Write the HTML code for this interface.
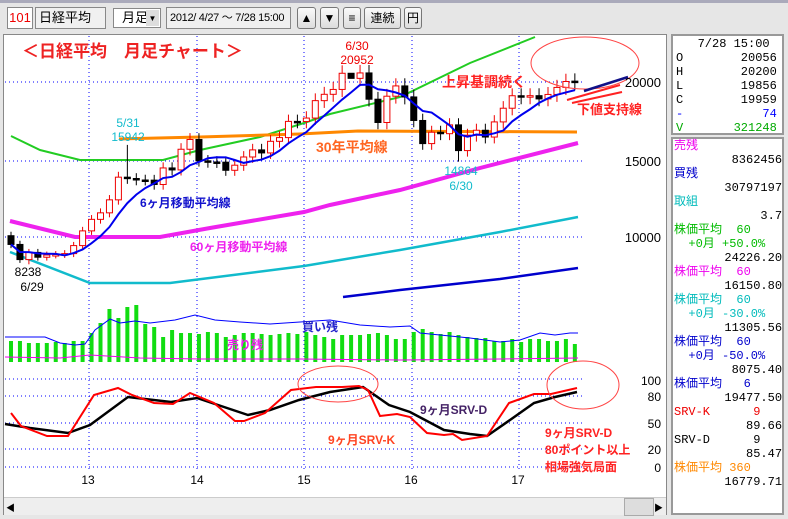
<!DOCTYPE html>
<html><head><meta charset="utf-8"><style>
body{margin:0;width:788px;height:519px;overflow:hidden;background:#e6e6e6;font-family:"Liberation Sans","Noto Sans CJK JP",sans-serif;position:relative}
.b{position:absolute;box-sizing:border-box;border:1px solid #888;background:#f0f0f0;font-size:13px;line-height:20px}
.btn{position:absolute;box-sizing:border-box;border:1px solid #777;border-radius:3px;background:linear-gradient(#fafafa,#dcdcdc);font-size:12px;text-align:center;line-height:20px;top:7px;height:22px}
svg{position:absolute;left:0;top:0}
.rp{position:absolute;font-family:"Liberation Mono","Noto Sans CJK JP",monospace;font-size:12px;line-height:14px;white-space:pre}
</style></head><body>
<div style="position:absolute;left:0;top:0;width:788px;height:3px;background:#aab"></div>
<div class="b" style="left:7px;top:7px;width:26px;height:22px;background:#fff;color:#e00;text-align:center">101</div>
<div class="b" style="left:35px;top:7px;width:71px;height:22px;padding-left:3px">日経平均</div>
<div class="b" style="left:113px;top:8px;width:48px;height:20px;background:#fff;padding-left:8px;line-height:18px">月足<span style="position:absolute;right:1px;top:1px;width:13px;height:16px;background:#ddd;font-size:8px;text-align:center">▼</span></div>
<div class="b" style="left:166px;top:7px;width:125px;height:22px;font-size:11px;padding-left:3px;white-space:nowrap;overflow:hidden;letter-spacing:-0.3px">2012/ 4/27 ～ 7/28 15:00</div>
<div class="btn" style="left:297px;width:19px">▲</div>
<div class="btn" style="left:320px;width:19px">▼</div>
<div class="btn" style="left:343px;width:18px">≡</div>
<div class="btn" style="left:364px;width:37px">連続</div>
<div class="btn" style="left:404px;width:18px">円</div>
<div style="position:absolute;left:3px;top:34px;width:664px;height:481px;background:#fff;border:1px solid #888;box-sizing:border-box"></div>
<div style="position:absolute;left:4px;top:497px;width:662px;height:17px;background:#eee;border-top:1px solid #ccc"><span style="position:absolute;left:2px;top:3px;font-size:9px">◀</span><span style="position:absolute;left:620px;top:0;width:28px;height:16px;background:#ddd;border:1px solid #aaa"></span><span style="position:absolute;right:3px;top:3px;font-size:9px">▶</span></div>
<div style="position:absolute;left:671px;top:34px;width:113px;height:101px;background:#fff;border:2px solid #999;box-sizing:border-box"></div>
<div style="position:absolute;left:671px;top:137px;width:113px;height:378px;background:#fff;border:2px solid #999;box-sizing:border-box"></div>
<div class="rp" style="left:676px;top:37px;width:104px">   7/28 15:00
O        20056
H        20200
L        19856
C        19959
<span style="color:#00f">-           74</span>
<span style="color:#0a0">V       321248</span></div>
<div class="rp" style="left:674px;top:139px;width:106px"><span style="color:#e0e">売残</span>
        8362456
<span style="color:#00c">買残</span>
       30797197
<span style="color:#0bb">取組</span>
            3.7
<span style="color:#0b0">株価平均  60
  +0月 +50.0%</span>
       24226.20
<span style="color:#e0e">株価平均  60</span>
       16150.80
<span style="color:#0bb">株価平均  60
  +0月 -30.0%</span>
       11305.56
<span style="color:#00c">株価平均  60
  +0月 -50.0%</span>
        8075.40
<span style="color:#00c">株価平均   6</span>
       19477.50
<span style="color:#e00">SRV-K      9</span>
          89.66
SRV-D      9
          85.47
<span style="color:#f80">株価平均 360</span>
       16779.71</div>
<svg id="s" width="788" height="519"></svg>
<script>
var C=[9520,8543,9006,8695,8839,8870,8928,9446,10395,11138,11559,12397,13860,13774,13677,13668,13388,14455,14327,15661,16291,14914,14841,14827,14304,14632,15162,15620,15424,16173,16413,17459,17450,17674,18797,19206,19520,20563,20235,20585,18890,17388,19083,19747,19033,17518,16026,16758,16666,17234,15575,16569,16887,16449,17425,18308,19114,19041,19118,18909,19197,19650,20033,19959];
var O=[10083];for(var i=1;i<C.length;i++)O.push(C[i-1]);O[63]=20056;
var H={13:15942,38:20952,50:14864,2:8238};
function X(i){return 11+i*8.95}function Y(v){return 82+(20000-v)*0.0155}
var s='';
function L(pts,c,w){s+='<polyline fill="none" stroke="'+c+'" stroke-width="'+w+'" points="'+pts+'"/>';}
[89,197,304,412,519].forEach(function(x){s+='<line x1="'+x+'" y1="36" x2="'+x+'" y2="470" stroke="#00f" stroke-dasharray="1,3"/>'});
[82,161,237,379,396,423,449,467].forEach(function(y){s+='<line x1="5" y1="'+y+'" x2="585" y2="'+y+'" stroke="#00f" stroke-dasharray="1,3"/>'});
L("11,136 40,150 80,160 163,160 200,150 260,137 304,123 330,114 400,97 470,63 535,37","#2c2",2);
L("10,221 75,237 160,237 210,228 304,212 330,205 400,190 480,168 578,143","#e2e",4);
L("10,252 90,283 170,283 304,266 400,250 500,232 578,217","#1bc",2.5);
L("343,297 400,290 500,279 578,268","#00c",2.5);
L("119,139 200,137 300,134 358,131 577,132","#f80",3);
var bt=[341,341,343,343,343,342,343,341,341,333,323,309,318,307,305,324,327,337,330,333,333,334,332,333,337,335,333,333,334,335,334,333,334,332,335,337,339,335,335,335,334,333,335,339,339,332,329,332,334,332,335,337,338,338,341,341,339,342,339,339,341,341,339,344];
bt.forEach(function(t,i){s+='<rect x="'+(X(i)-2)+'" y="'+t+'" width="4" height="'+(362-t)+'" fill="#1d1"/>'});
L("5,337 20,337 45,337 60,343 75,345 85,344 95,330 110,319 120,323 135,321 150,323 175,320 195,315 215,320 240,322 270,324 300,322 330,320 360,325 390,327 410,326 420,333 440,335 470,338 500,342 520,340 540,333 555,335 570,333 578,333","#00f",1);
L("5,357 60,358 90,355 140,358 200,359 300,359 400,360 500,359 578,358","#e0e",1);
for(var i=0;i<C.length;i++){var o=O[i],c=C[i],up=c>=o,x=X(i),hi=Math.max(o,c)*1.025,lo=Math.min(o,c)*0.975;
if(H[i]){if(i==13)hi=H[i];else lo=H[i];} if(i==38)hi=20952;
s+='<line x1="'+x+'" y1="'+Y(hi)+'" x2="'+x+'" y2="'+Y(lo)+'" stroke="'+(up?'#e00':'#000')+'"/>';
var t=Y(Math.max(o,c)),h=Math.max(1.5,Y(Math.min(o,c))-t);
s+='<rect x="'+(x-3)+'" y="'+t+'" width="6" height="'+h+'" fill="'+(up?'#fff':'#000')+'" stroke="'+(up?'#e00':'#000')+'"/>';}
var p=[];for(var i=0;i<C.length;i++){var a=0,n=0;for(var j=Math.max(0,i-5);j<=i;j++){a+=C[j];n++}p.push(X(i)+','+Y(a/n))}
L(p.join(' '),"#00e",2);
L("5,424 30,428 68,433 90,425 128,397 171,402 197,398 248,415 270,410 299,400 330,392 363,387 389,405 410,412 444,430 470,434 487,436 510,420 534,403 555,397 577,392","#000",2.5);
L("11,413 21,426 47,436 68,436 94,395 118,388 132,395 154,403 173,404 190,393 214,403 235,421 244,421 265,413 291,390 316,387 342,387 359,386 368,390 380,416 397,414 410,417 427,433 444,435 453,434 462,440 487,436 509,403 534,394 551,394 577,388","#f00",2);
s+='<ellipse cx="585" cy="63" rx="54" ry="26" fill="none" stroke="#f44"/><ellipse cx="338" cy="384" rx="40" ry="18" fill="none" stroke="#f44"/><ellipse cx="583" cy="385" rx="36" ry="24" fill="none" stroke="#f44"/>';
L("584,91 628,77","#118",2.5);L("567,100 620,85","#f22",2);L("572,103 622,92","#f22",2);
function T(x,y,t,c,sz,w,a){s+='<text x="'+x+'" y="'+y+'" fill="'+c+'" font-size="'+sz+'" font-weight="'+(w||'normal')+'"'+(a?' text-anchor="'+a+'"':'')+'>'+t+'</text>'}
T(22,57,'＜日経平均　月足チャート＞','#e22',17,'bold');
T(357,50,'6/30','#e00',12,0,'middle');T(357,64,'20952','#e00',12,0,'middle');
T(128,127,'5/31','#1bc',12,0,'middle');T(128,141,'15942','#1bc',12,0,'middle');
T(28,276,'8238','#000',12,0,'middle');T(32,291,'6/29','#000',12,0,'middle');
T(461,175,'14864','#1bc',12,0,'middle');T(461,190,'6/30','#1bc',12,0,'middle');
T(442,87,'上昇基調続く','#f22',14,'bold');T(316,152,'30年平均線','#f62',14,'bold');
T(577,114,'下値支持線','#f22',13,'bold');T(140,207,'6ヶ月移動平均線','#11c',12,'bold');
T(190,251,'60ヶ月移動平均線','#e2e',12,'bold');T(302,331,'買い残','#22c',12,'bold');T(227,349,'売り残','#e2e',12,'bold');
T(420,414,'9ヶ月SRV-D','#426',12,'bold');T(328,444,'9ヶ月SRV-K','#f42',12,'bold');
T(545,437,'9ヶ月SRV-D','#f22',12,'bold');T(545,454,'80ポイント以上','#f22',12,'bold');T(545,471,'相場強気局面','#f22',12,'bold');
[['20000',87],['15000',166],['10000',242]].forEach(function(a){T(661,a[1],a[0],'#000',13,0,'end')});
[['100',385],['80',401],['50',428],['20',454],['0',472]].forEach(function(a){T(661,a[1],a[0],'#000',12,0,'end')});
[['13',88],['14',197],['15',304],['16',411],['17',518]].forEach(function(a){T(a[1],484,a[0],'#000',12,0,'middle')});
document.getElementById('s').innerHTML=s;
</script>
</body></html>
